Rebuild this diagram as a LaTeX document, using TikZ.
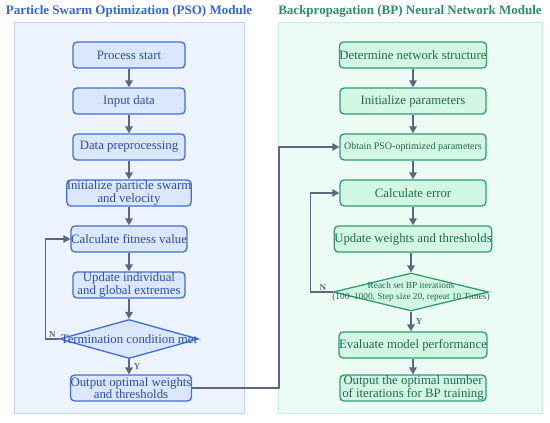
\documentclass[tikz,border=0pt]{standalone}
\usepackage{fontspec}
\setmainfont{Liberation Serif}
\usetikzlibrary{shapes.geometric, arrows.meta, positioning}
\definecolor{psoTitle}{HTML}{3566CC}
\definecolor{psoPanel}{HTML}{EEF4FF}
\definecolor{psoPanelLine}{HTML}{C3D6F5}
\definecolor{psoFill}{HTML}{DBE7FC}
\definecolor{psoLine}{HTML}{3D6FD8}
\definecolor{psoText}{HTML}{2B4FA6}
\definecolor{bpTitle}{HTML}{2A8E66}
\definecolor{bpPanel}{HTML}{ECFCF4}
\definecolor{bpPanelLine}{HTML}{C6F0DC}
\definecolor{bpFill}{HTML}{D2F8E5}
\definecolor{bpLine}{HTML}{2F9D71}
\definecolor{bpText}{HTML}{1F6A4F}
\definecolor{flowGray}{HTML}{5D6880}

\begin{document}
\begin{tikzpicture}[x=1pt, y=-1pt,
every node/.style={font=\fontsize{12.8}{10.5}\selectfont, align=center},
psobox/.style={rectangle, rounded corners=4pt, draw=psoLine, fill=psoFill, line width=1.3pt, text=psoText, minimum width=112pt, minimum height=26pt, inner sep=0pt},
bpbox/.style={rectangle, rounded corners=4pt, draw=bpLine, fill=bpFill, line width=1.3pt, text=bpText, minimum width=146pt, minimum height=26pt, inner sep=0pt},
psocheck/.style={diamond, draw=psoLine, fill=psoFill, line width=1.3pt, text=psoText, minimum width=139pt, minimum height=39pt, inner sep=0pt},
bpcheck/.style={diamond, draw=bpLine, fill=bpFill, line width=1.3pt, text=bpText, minimum width=155pt, minimum height=38pt, inner sep=0pt},
title/.style={font=\fontsize{13}{14}\selectfont\bfseries},
arrow/.style={-{Triangle[length=7pt, width=7.5pt]}, line width=1.8pt, flowGray},
loopback/.style={-{Triangle[length=7pt, width=7.5pt]}, line width=1.2pt, flowGray},
tag/.style={font=\fontsize{9}{10}\selectfont\bfseries, text=flowGray, inner sep=1pt}
]
\useasboundingbox (0,0) rectangle (550,423);
% Panels
\draw[psoPanelLine, fill=psoPanel] (14,22) rectangle (244,413);
\draw[bpPanelLine, fill=bpPanel] (278,22) rectangle (542,413);
\node[title, text=psoTitle] (psotitle) at (129,11) {Particle Swarm Optimization (PSO) Module};
\node[title, text=bpTitle] (bptitle) at (410,11) {Backpropagation (BP) Neural Network Module};
% PSO column
\node[psobox] (p1) at (129,55) {Process start};
\node[psobox] (p2) at (129,101) {Input data};
\node[psobox] (p3) at (129,147) {Data preprocessing};
\node[psobox] (p4) at (129,193) {Initialize particle swarm\\and velocity};
\node[psobox] (p5) at (129,239) {Calculate fitness value};
\node[psobox] (p6) at (129,285) {Update individual\\and global extremes};
\node[psocheck, label=center:{\textcolor{psoText}{Termination condition met}}] (p7) at (129,339) {};
\node[psobox, minimum width=117pt] (p8) at (131,388) {Output optimal weights\\and thresholds};
% BP column
\node[bpbox] (b1) at (413,55) {Determine network structure};
\node[bpbox] (b2) at (413,101) {Initialize parameters};
\node[bpbox, font=\fontsize{10}{10}\selectfont] (b3) at (413,147) {Obtain PSO-optimized parameters};
\node[bpbox] (b4) at (413,193) {Calculate error};
\node[bpbox] (b5) at (413,239) {Update weights and thresholds};
\node[bpcheck, label={[font=\fontsize{9.3}{11}\selectfont, text=bpText, align=center]center:{Reach set BP iterations\\(100--1000, Step size 20, repeat 10 Times)}}] (b6) at (411,292) {};
\node[bpbox] (b7) at (413,345) {Evaluate model performance};
\node[bpbox] (b8) at (413,388) {Output the optimal number\\of iterations for BP training};
% Arrows
\foreach \a/\b in {p1/p2, p2/p3, p3/p4, p4/p5, p5/p6, p6/p7, b1/b2, b2/b3, b3/b4, b4/b5, b7/b8}
  \draw[arrow] (\a) -- (\b);
\draw[arrow] (b5.south -| b6.north) -- (b6.north);
\draw[arrow] (p7.south) -- node[tag, right=3pt] {Y} (p7.south |- p8.north);
\draw[arrow] (b6.south) -- node[tag, right=3pt] {Y} (b6.south |- b7.north);
% Loops
\draw[loopback] (p7.west) -- node[tag, above, pos=0.5] {N} ++(-13,0) |- (p5.west);
\draw[loopback] (b6.west) -- node[tag, above, pos=0.45] {N} ++(-22,0) |- (b4.west);
\draw[loopback] (p8.east) -- ++(87,0) |- (b3.west);
\end{tikzpicture}
\end{document}
